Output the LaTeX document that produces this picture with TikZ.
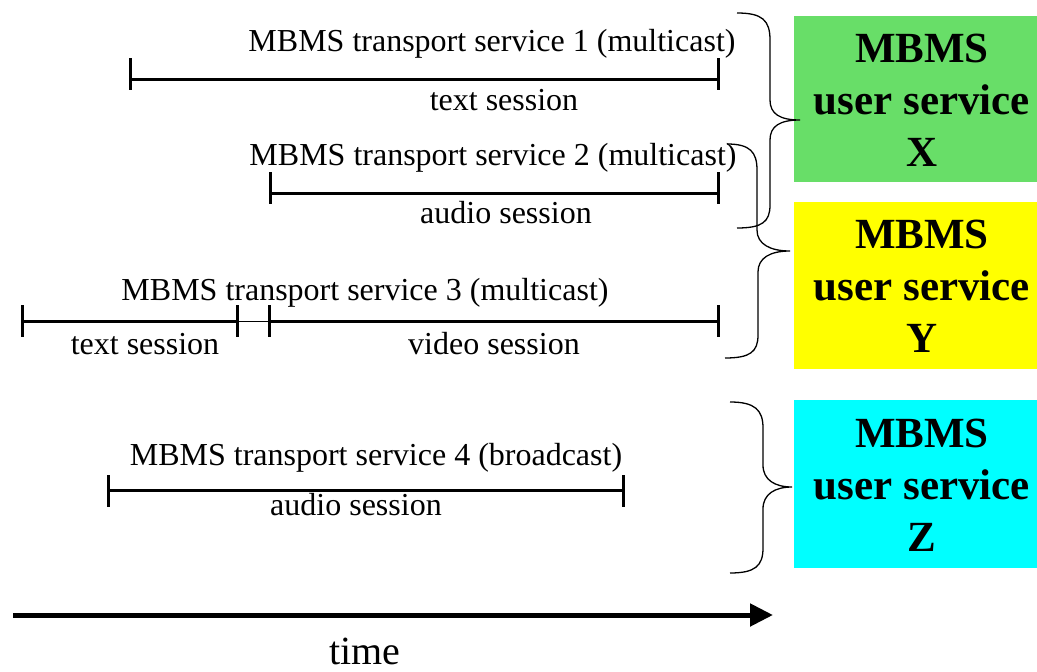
\documentclass[tikz,border=0pt]{standalone}
\usepackage{fontspec}
\setmainfont{Liberation Serif}
\usetikzlibrary{arrows.meta}
\definecolor{boxgreen}{RGB}{104,222,104}
\definecolor{boxyellow}{RGB}{255,255,0}
\definecolor{boxcyan}{RGB}{0,255,255}
\tikzset{
  lbl/.style={inner sep=0pt, font=\fontsize{32}{36}\selectfont},
  session/.style={line width=3pt},
  gap/.style={line width=1pt},
  tickmark/.style={line width=3pt},
  bracepath/.style={line width=1.3pt},
  svctext/.style={inner sep=0pt, align=center, font=\fontsize{43}{52}\selectfont\bfseries},
  timearrow/.style={line width=5pt, -{Triangle[length=23pt,width=22pt]}},
}
\begin{document}
\begin{tikzpicture}[x=1pt,y=-1pt]
\useasboundingbox (0,0) rectangle (1037,672);

% service boxes
\fill[boxgreen]  (794,16)  rectangle (1037,182);
\fill[boxyellow] (794,202) rectangle (1037,369);
\fill[boxcyan]   (794,400) rectangle (1037,568);
\node[svctext] (X) at (922,100) {MBMS\\user service\\X};
\node[svctext] (Y) at (922,286) {MBMS\\user service\\Y};
\node[svctext] (Z) at (922,485) {MBMS\\user service\\Z};

% transport service 1
\coordinate (a1) at (130,79);
\coordinate (b1) at (718,79);
\draw[session] (a1) -- (b1);
\draw[tickmark] (a1) ++(0,-21) -- ++(0,32);
\draw[tickmark] (b1) ++(0,-21) -- ++(0,32);
\node[lbl] (t1) at (492,44) {MBMS transport service 1 (multicast)};
\node[lbl] (s1) at (504,100) {text session};

% transport service 2
\coordinate (a2) at (270,193);
\coordinate (b2) at (718,193);
\draw[session] (a2) -- (b2);
\draw[tickmark] (a2) ++(0,-21) -- ++(0,32);
\draw[tickmark] (b2) ++(0,-21) -- ++(0,32);
\node[lbl] (t2) at (493,158) {MBMS transport service 2 (multicast)};
\node[lbl] (s2) at (506,213) {audio session};

% transport service 3
\coordinate (a3) at (22,321);
\coordinate (m3) at (237,321);
\coordinate (n3) at (269,321);
\coordinate (b3) at (718,321);
\draw[session] (a3) -- (m3);
\draw[gap] (m3) -- (n3);
\draw[session] (n3) -- (b3);
\foreach \p in {a3,m3,n3,b3}{\draw[tickmark] (\p) ++(0,-16) -- ++(0,32);}
\node[lbl] (t3) at (365,293) {MBMS transport service 3 (multicast)};
\node[lbl] (s3a) at (145,344) {text session};
\node[lbl] (s3b) at (494,344) {video session};

% transport service 4
\coordinate (a4) at (108,490);
\coordinate (b4) at (623,490);
\draw[session] (a4) -- (b4);
\draw[tickmark] (a4) ++(0,-15) -- ++(0,32);
\draw[tickmark] (b4) ++(0,-15) -- ++(0,32);
\node[lbl] (t4) at (376,458) {MBMS transport service 4 (broadcast)};
\node[lbl] (s4) at (356,505) {audio session};

% braces
\draw[bracepath] (737,13) .. controls (762,13) and (770,20) .. (770,40)
  -- (770,100) .. controls (770,114) and (780,120) .. (800,120)
  .. controls (780,120) and (770,126) .. (770,140)
  -- (770,205) .. controls (770,222) and (762,228) .. (737,228);
\draw[bracepath] (727,144) .. controls (750,144) and (757,152) .. (757,170)
  -- (757,230) .. controls (757,244) and (770,251) .. (790,251)
  .. controls (770,251) and (758,258) .. (758,272)
  -- (758,335) .. controls (758,352) and (750,358) .. (725,358);
\draw[bracepath] (730,402) .. controls (755,402) and (763,410) .. (763,428)
  -- (763,465) .. controls (763,480) and (775,487) .. (792,487)
  .. controls (775,487) and (763,494) .. (763,509)
  -- (763,548) .. controls (763,566) and (755,573) .. (730,573);

% time axis
\coordinate (tA) at (13,615);
\coordinate (tB) at (773,615);
\draw[timearrow] (tA) -- (tB);
\node[inner sep=0pt, font=\fontsize{40}{44}\selectfont] (time) at (365,651) {time};
\end{tikzpicture}
\end{document}
